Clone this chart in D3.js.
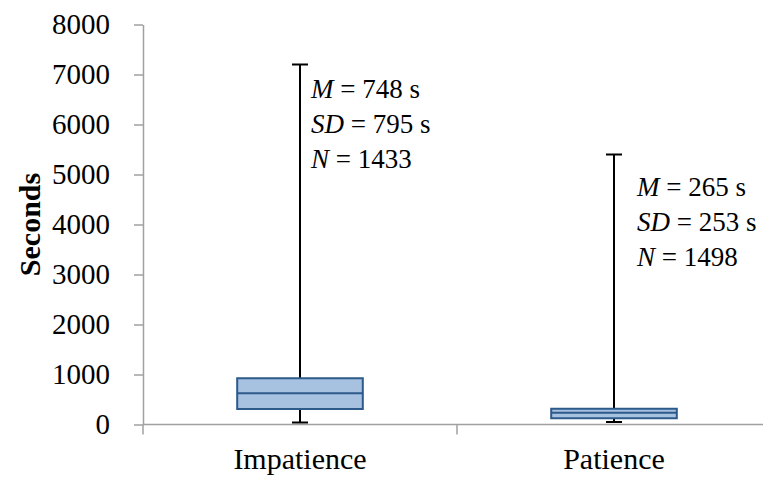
<!DOCTYPE html>
<html>
<head>
<meta charset="utf-8">
<script src="https://cdn.jsdelivr.net/npm/d3@7.9.0/dist/d3.min.js"></script>
<style>
  body { margin: 0; background: #fff; }
  svg, svg text { font-family: "Liberation Serif", "Times New Roman", Tinos, "DejaVu Serif", serif; }
</style>
</head>
<body>
<svg id="chart" width="763" height="479"></svg>
<script>
// data
const groups = ["Impatience", "Patience"];
const mins = [40, 50];
const q1s = [310, 125];
const medians = [625, 235];
const q3s = [925, 315];
const maxs = [7200, 5400];
const statMeans = ["748", "265"];
const statSDs = ["795", "253"];
const statNs = ["1433", "1498"];
const yTicks = [0, 1000, 2000, 3000, 4000, 5000, 6000, 7000, 8000];

const svg = d3.select("#chart");
const axisColor = "#a0a0a0";

let x = d3.scaleBand().domain(groups).range([143, 771]).padding(0);
let y = d3.scaleLinear().domain([0, 8000]).range([424.5, 24.5]);

let boxes = groups.map((g, i) => ({
    group: g, min: mins[i], q1: q1s[i], median: medians[i], q3: q3s[i], max: maxs[i],
    m: statMeans[i], sd: statSDs[i], n: statNs[i]
}));

// y axis
let yAxis = svg.append("g")
    .attr("transform", "translate(143,0)")
    .call(d3.axisLeft(y).tickValues(yTicks).tickFormat(d3.format("d"))
        .tickSize(9).tickSizeOuter(0).tickPadding(24));
yAxis.attr("font-family", null);
yAxis.select(".domain").attr("stroke", axisColor).attr("stroke-width", 1.5);
yAxis.selectAll(".tick line").attr("stroke", axisColor).attr("stroke-width", 1.5);
yAxis.selectAll("text")
    .attr("font-size", 29)
    .attr("fill", "#000");

// x axis
let xAxis = svg.append("g")
    .attr("transform", `translate(0,${y(0)})`)
    .call(d3.axisBottom(x).tickSize(0).tickPadding(23));
xAxis.attr("font-family", null);
xAxis.select(".domain").remove();
xAxis.append("line")
    .attr("x1", 143).attr("x2", 763)
    .attr("stroke", axisColor).attr("stroke-width", 1.5);
xAxis.selectAll(".bound")
    .data(groups.map(g => x(g)).concat([x.range()[1]]))
    .enter()
    .append("line")
    .attr("class", "bound")
    .attr("x1", d => d).attr("x2", d => d)
    .attr("y1", 0).attr("y2", 10)
    .attr("stroke", axisColor).attr("stroke-width", 1.5);
xAxis.selectAll(".tick text")
    .attr("font-size", 30)
    .attr("fill", "#000");

// axis title
svg.append("text")
    .attr("transform", `translate(40,${y(4000)}) rotate(-90)`)
    .attr("text-anchor", "middle")
    .attr("font-weight", "bold")
    .attr("font-size", 30)
    .text("Seconds");

// boxes
let boxW = x.bandwidth() * 0.4;
let capW = 16;
let g = svg.selectAll(".box")
    .data(boxes)
    .enter()
    .append("g")
    .attr("class", "box")
    .attr("transform", d => `translate(${x(d.group) + x.bandwidth() / 2},0)`);

// whiskers
g.append("line")
    .attr("x1", 0).attr("x2", 0)
    .attr("y1", d => y(d.max)).attr("y2", d => y(d.min))
    .attr("stroke", "#000").attr("stroke-width", 2);
g.append("line")
    .attr("x1", -capW / 2).attr("x2", capW / 2)
    .attr("y1", d => y(d.max)).attr("y2", d => y(d.max))
    .attr("stroke", "#000").attr("stroke-width", 2);
g.append("line")
    .attr("x1", -capW / 2).attr("x2", capW / 2)
    .attr("y1", d => y(d.min)).attr("y2", d => y(d.min))
    .attr("stroke", "#000").attr("stroke-width", 2);

g.append("rect")
    .attr("x", -boxW / 2)
    .attr("width", boxW)
    .attr("y", d => y(d.q3))
    .attr("height", d => y(d.q1) - y(d.q3))
    .attr("fill", "#a7c1e1")
    .attr("stroke", "#2c5a8a")
    .attr("stroke-width", 2);
g.append("line")
    .attr("x1", -boxW / 2).attr("x2", boxW / 2)
    .attr("y1", d => y(d.median)).attr("y2", d => y(d.median))
    .attr("stroke", "#2c5a8a").attr("stroke-width", 2);

// stats labels
let labelPos = [{ dx: 11, top: 98 }, { dx: 23, top: 196 }];
boxes.forEach((d, i) => {
    let lines = [["M", ` = ${d.m} s`], ["SD", ` = ${d.sd} s`], ["N", ` = ${d.n}`]];
    lines.forEach((ln, j) => {
        let t = svg.append("text")
            .attr("x", x(d.group) + x.bandwidth() / 2 + labelPos[i].dx)
            .attr("y", labelPos[i].top + j * 35)
            .attr("font-size", 27);
        t.append("tspan").attr("font-style", "italic").text(ln[0]);
        t.append("tspan").text(ln[1]);
    });
});
</script>
</body>
</html>
